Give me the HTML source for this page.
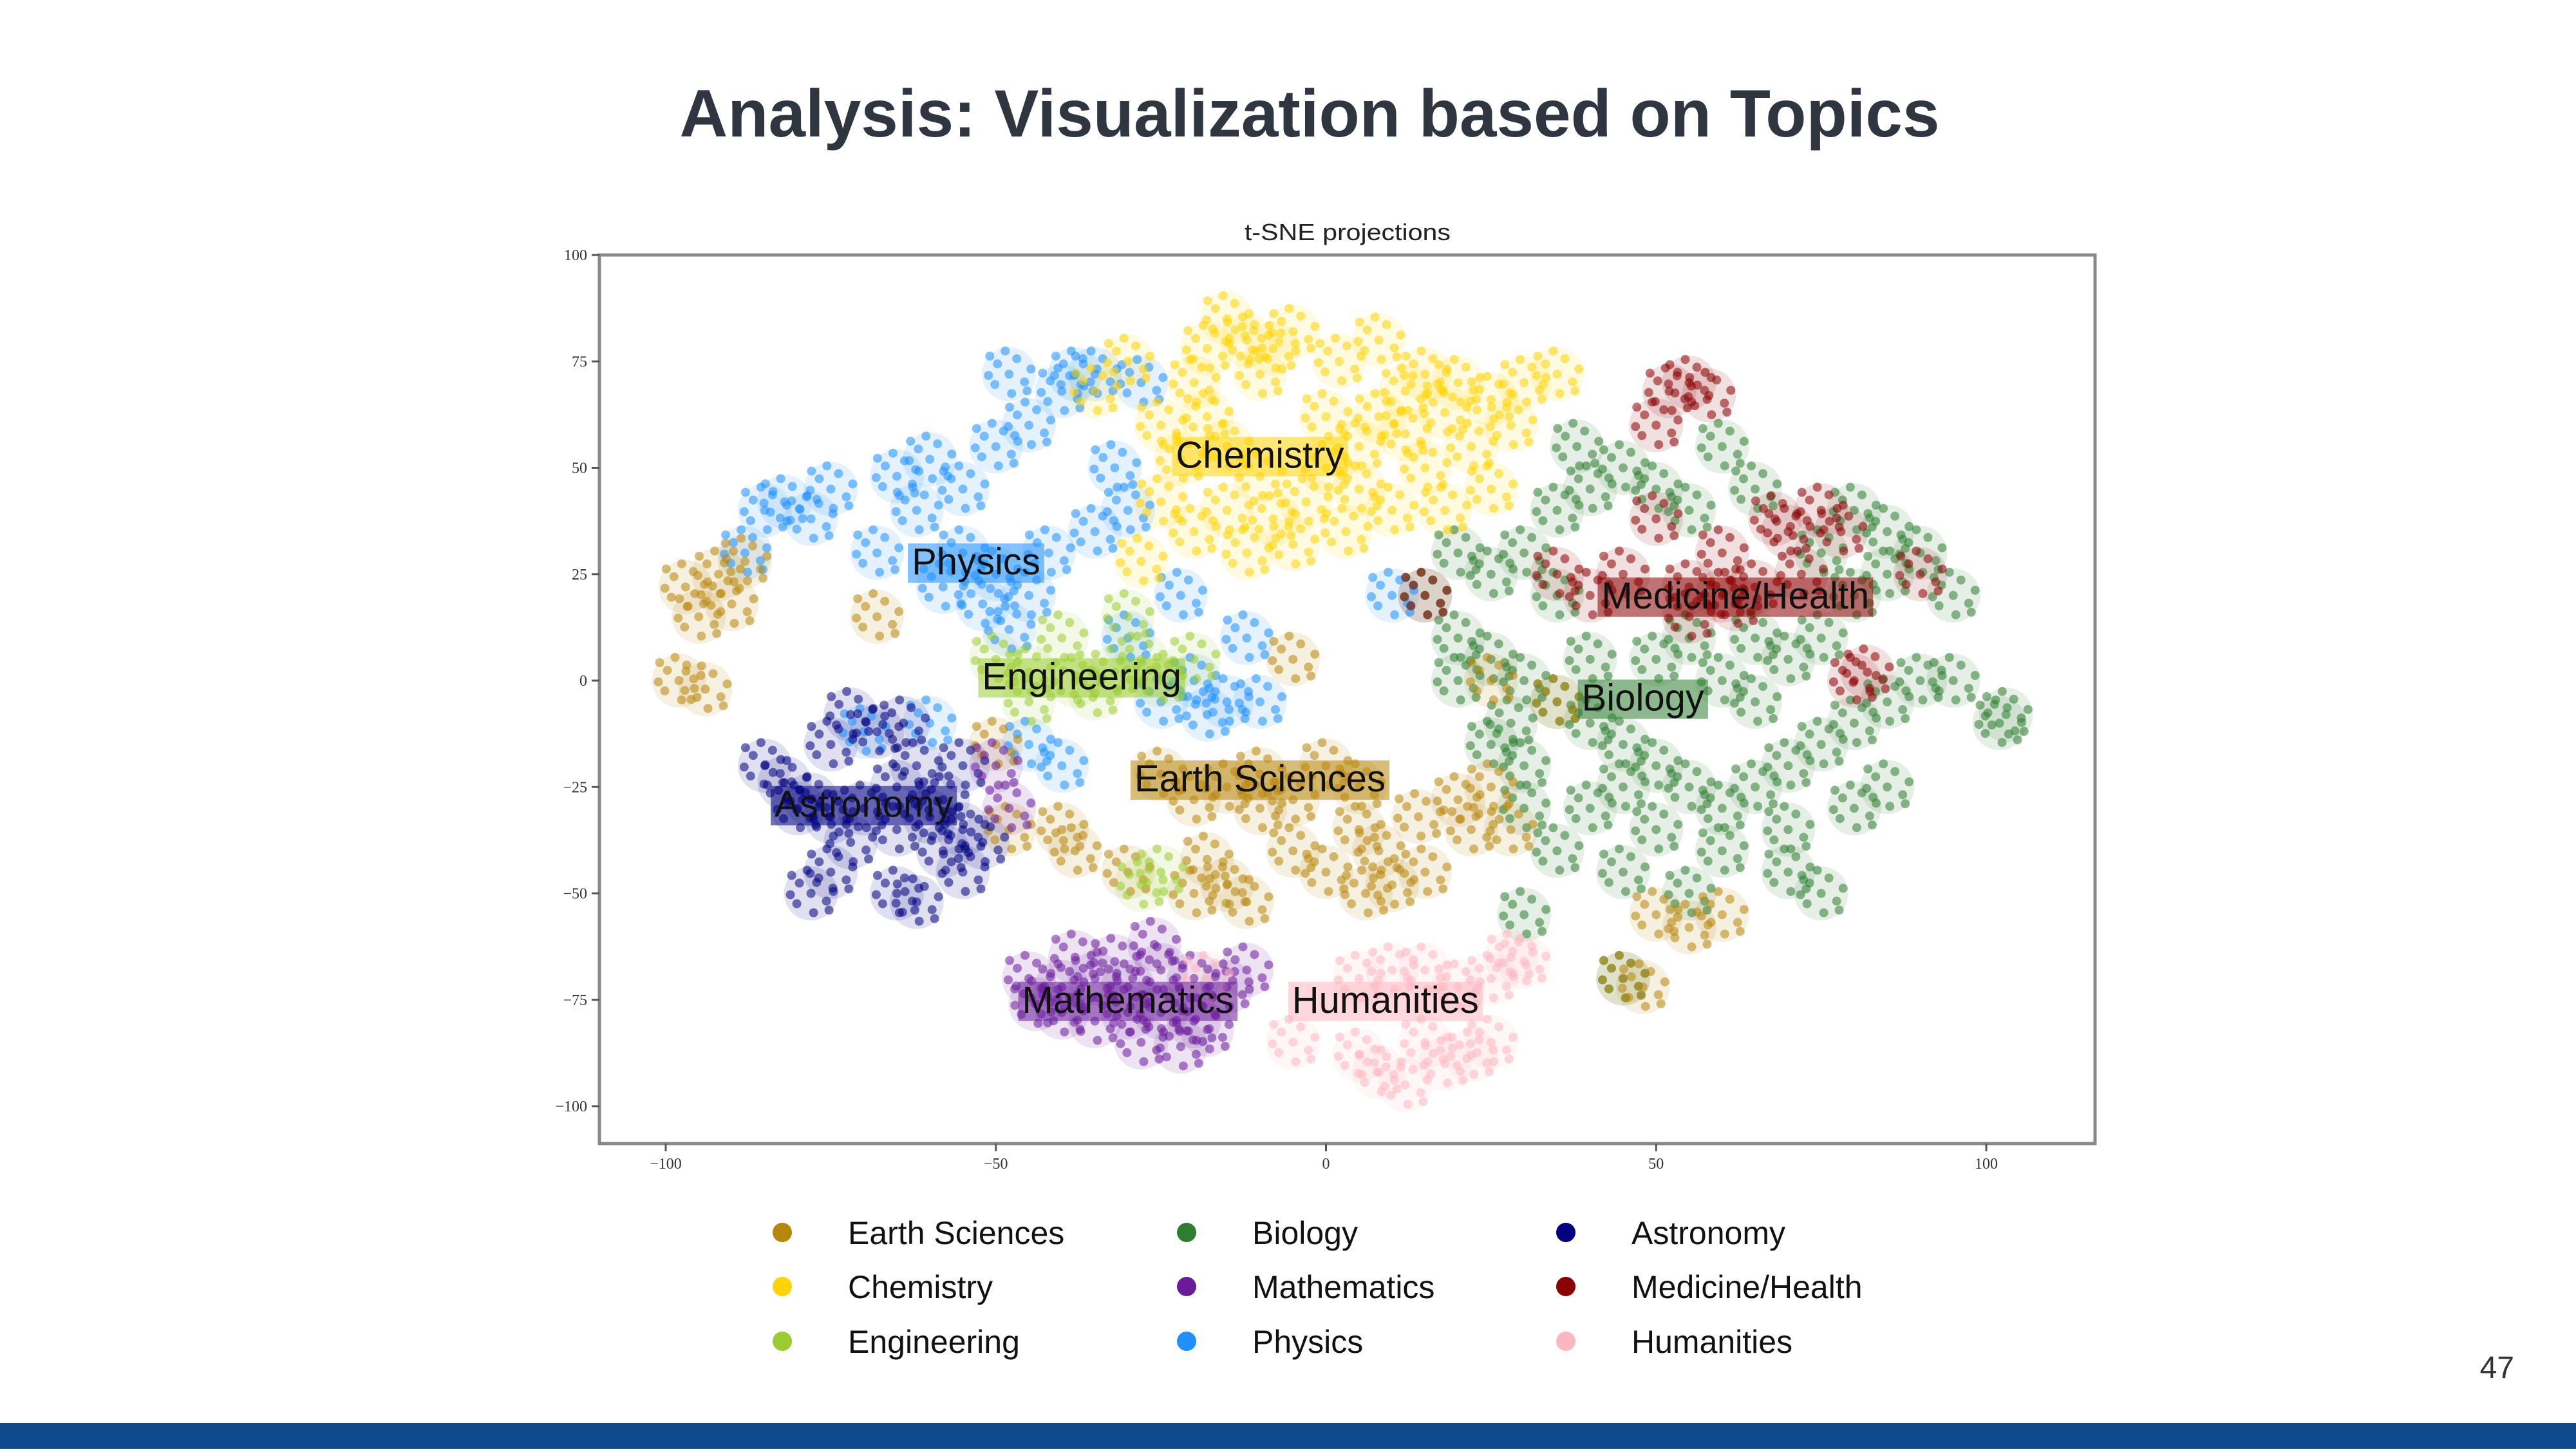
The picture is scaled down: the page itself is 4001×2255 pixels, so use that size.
<!DOCTYPE html>
<html><head><meta charset="utf-8">
<style>
html,body{margin:0;padding:0;background:#fff;}
body{width:4001px;height:2250px;overflow:hidden;position:relative;font-family:"Liberation Sans",sans-serif;}
</style></head>
<body>
<svg id="chart" width="4001" height="2250" xmlns="http://www.w3.org/2000/svg">
<text x="2034" y="212" text-anchor="middle" font-family="Liberation Sans, sans-serif" font-weight="bold" font-size="104" fill="#2f3640" textLength="1957" lengthAdjust="spacingAndGlyphs">Analysis: Visualization based on Topics</text>
<text x="2093" y="373" text-anchor="middle" font-family="Liberation Sans, sans-serif" font-size="36" fill="#222" textLength="320" lengthAdjust="spacingAndGlyphs">t-SNE projections</text>
<g id="plot"></g>
<rect x="931" y="396" width="2323" height="1380" fill="none" stroke="#888" stroke-width="5"/>
<g id="axes"></g>
<g id="labels"></g>
<g id="legend"></g>
<text x="3905" y="2140" text-anchor="end" font-family="Liberation Sans, sans-serif" font-size="48" fill="#333">47</text>
<rect x="0" y="2210" width="4001" height="40" fill="#0e4a8c"/>
</svg>
<script>
const categories=["Earth Sciences","Chemistry","Engineering","Biology","Mathematics","Physics","Astronomy","Medicine/Health","Humanities"];
const colors=["#b8860b","#ffd400","#9acd32","#2e7d32","#6a1b9a","#1e90ff","#000080","#8b0000","#ffb6c1"];
const xTicks=[-100,-50,0,50,100];
const yTicks=[100,75,50,25,0,-25,-50,-75,-100];
const earthPts=[[-97,22],[-92,25],[-90,18],[-95,15],[-88,28],[-98,0],[-94,-2],[-68,15],[-40,-35],[-38,-40],[-25,-22],[-20,-28],[-15,-25],[-10,-22],[-5,-28],[0,-20],[5,-25],[-18,-42],[-15,-48],[-20,-50],[-12,-52],[5,-35],[8,-40],[10,-48],[6,-50],[15,-45],[20,-28],[22,-35],[25,-25],[28,-35],[-30,-45],[-50,-15],[-5,-40],[0,-45],[14,-32],[50,-55],[55,-58],[60,-55],[45,-70],[48,-72],[-48,-35],[35,-5],[-5,5],[25,0],[-10,-30]];
const chemPts=[[-15,85],[-12,80],[-8,78],[-18,78],[-10,72],[-5,82],[-20,70],[-25,60],[-22,52],[-15,55],[-10,48],[-15,40],[-8,38],[-3,42],[0,50],[5,45],[5,55],[8,62],[12,68],[15,72],[20,70],[18,63],[25,66],[28,60],[22,55],[15,50],[10,40],[3,35],[-5,32],[-20,35],[-25,42],[30,70],[35,72],[-30,75],[-35,68],[2,75],[8,80],[-28,28],[25,45],[-12,30],[18,40],[-18,62],[12,58],[0,62]];
const engPts=[[-45,2],[-38,0],[-32,2],[-28,5],[-35,-3],[-25,0],[-40,10],[-28,-48],[-25,-45],[-50,5],[-30,15],[-20,5],[-45,-5]];
const bioPts=[[20,0],[25,5],[30,0],[35,-5],[28,-10],[40,-10],[45,-15],[50,-20],[55,-25],[45,-25],[40,-30],[50,-35],[60,-30],[65,-25],[70,-20],[75,-15],[80,-10],[85,-5],[65,-5],[60,0],[70,5],[75,10],[80,20],[85,25],[90,30],[95,20],[85,35],[80,40],[75,30],[35,40],[40,45],[45,50],[38,55],[50,45],[55,40],[30,30],[25,25],[35,20],[15,20],[20,30],[60,-40],[70,-45],[75,-50],[55,-50],[45,-45],[35,-40],[30,-20],[25,-15],[103,-8],[102,-10],[45,-70],[30,-55],[65,10],[55,10],[50,5],[90,0],[95,0],[70,-35],[80,-30],[40,5],[30,-30],[60,55],[65,45],[20,10],[85,-25]];
const mathPts=[[-45,-70],[-40,-72],[-35,-70],[-30,-72],[-25,-68],[-20,-70],[-40,-78],[-35,-80],[-30,-78],[-25,-78],[-20,-80],[-28,-85],[-22,-86],[-18,-82],[-32,-66],[-15,-72],[-38,-65],[-12,-68],[-44,-76],[-26,-62],[-48,-30],[-50,-20]];
const physPts=[[-82,42],[-78,38],[-85,40],[-75,45],[-65,48],[-60,52],[-55,45],[-62,40],[-50,55],[-45,60],[-40,68],[-35,72],[-28,70],[-38,72],[-48,72],[-55,30],[-50,25],[-52,18],[-45,20],[-58,22],[-48,12],[-42,30],[-35,35],[-30,40],[-32,50],[-25,-5],[-15,-5],[-18,-8],[-10,-5],[-20,0],[-68,30],[-88,30],[-70,-12],[-40,-20],[-60,-10],[-45,-15],[-22,20],[-12,10],[-30,10],[10,20]];
const astroPts=[[-72,-8],[-68,-12],[-64,-10],[-75,-15],[-85,-20],[-82,-24],[-78,-28],[-75,-32],[-70,-30],[-65,-35],[-60,-32],[-55,-35],[-58,-40],[-52,-38],[-55,-45],[-78,-50],[-75,-45],[-65,-50],[-62,-52],[-58,-28],[-62,-20],[-80,-30],[-72,-38],[-55,-20],[-65,-25]];
const medPts=[[52,68],[55,70],[58,67],[50,60],[55,22],[60,20],[65,22],[62,18],[70,35],[68,38],[75,40],[80,0],[82,2],[40,20],[35,25],[45,25],[72,25],[90,25],[15,20],[55,15],[60,30],[78,35],[50,38]];
const humPts=[[5,-70],[10,-68],[15,-68],[20,-72],[25,-70],[28,-65],[8,-92],[12,-95],[18,-90],[22,-88],[25,-85],[15,-85],[5,-88],[-5,-85],[30,-66],[-18,-70]];
const seriesPts=[earthPts,chemPts,engPts,bioPts,mathPts,physPts,astroPts,medPts,humPts];
const labelText=["Earth Sciences","Chemistry","Engineering","Biology","Mathematics","Physics","Astronomy","Medicine/Health","Humanities"];
const labelPos=[[-10,-23],[-10,53],[-37,1],[48,-4],[-30,-75],[-53,28],[-70,-29],[62,20],[9,-75]];

const NS="http://www.w3.org/2000/svg";
const X=v=>2059.5+v*10.255;
const Y=v=>1057+v*-6.61;
function mk(tag,attrs,parent){const e=document.createElementNS(NS,tag);for(const k in attrs)e.setAttribute(k,attrs[k]);parent.appendChild(e);return e;}
const plot=document.getElementById('plot');
const offs=[[0,0],[24,12],[-22,16],[12,-24],[-18,-16],[34,-8],[-32,2],[4,30],[-6,-36],[28,26],[-30,-28]];
const drawOrder=[3,5,1,0,2,6,4,7,8];
drawOrder.forEach(ci=>{
  seriesPts[ci].forEach(p=>{
    const h=mk('circle',{cx:X(p[0]),cy:Y(p[1]),r:42,fill:colors[ci],opacity:0.12},plot);
    
    
  });
});
drawOrder.forEach(ci=>{
  seriesPts[ci].forEach(p=>{
    offs.forEach(o=>{
      const c=mk('circle',{cx:X(p[0])+o[0],cy:Y(p[1])+o[1],r:7,fill:colors[ci],opacity:0.55},plot);
      
      
    });
  });
});
const axes=document.getElementById('axes');
xTicks.forEach(t=>{
  const l=mk('line',{x1:X(t),x2:X(t),y1:1776,y2:1788,stroke:'#555','stroke-width':3},axes);
  
  
  const tx=mk('text',{x:X(t),y:1815,'text-anchor':'middle','font-size':24,'font-family':'Liberation Serif, serif',fill:'#333'},axes);
  tx.textContent=t<0?'\u2212'+(-t):String(t);
  
  
});
yTicks.forEach(t=>{
  const l=mk('line',{x1:919,x2:931,y1:Y(t),y2:Y(t),stroke:'#555','stroke-width':3},axes);
  
  
  const tx=mk('text',{x:912,y:Y(t)+8,'text-anchor':'end','font-size':24,'font-family':'Liberation Serif, serif',fill:'#333'},axes);
  tx.textContent=t<0?'\u2212'+(-t):String(t);
  
  
});
const labels=document.getElementById('labels');
labelText.forEach((s,i)=>{
  const g=mk('g',{},labels);
  
  
  const r=mk('rect',{fill:colors[i],opacity:0.55},g);
  const t=mk('text',{x:X(labelPos[i][0]),y:Y(labelPos[i][1])+20,'text-anchor':'middle','font-size':58,'font-family':'Liberation Sans, sans-serif',fill:'#111'},g);
  t.textContent=s;
  const b=t.getBBox();
  r.setAttribute('x',b.x-6);r.setAttribute('y',b.y+4);r.setAttribute('width',b.width+12);r.setAttribute('height',b.height-4);
});
const legend=document.getElementById('legend');
const legOrder=[0,1,2,3,4,5,6,7,8];
const colX=[1215,1843,2432], rowY=[1914,1998,2083];
legOrder.forEach((ci,k)=>{
  const col=Math.floor(k/3), row=k%3;
  const g=mk('g',{},legend);
  
  
  mk('circle',{cx:colX[col],cy:rowY[row],r:15,fill:colors[ci]},g);
  const t=mk('text',{x:colX[col]+102,y:rowY[row]+18,'font-size':50,'font-family':'Liberation Sans, sans-serif',fill:'#111'},g);
  t.textContent=categories[ci];
});
</script>
</body></html>
